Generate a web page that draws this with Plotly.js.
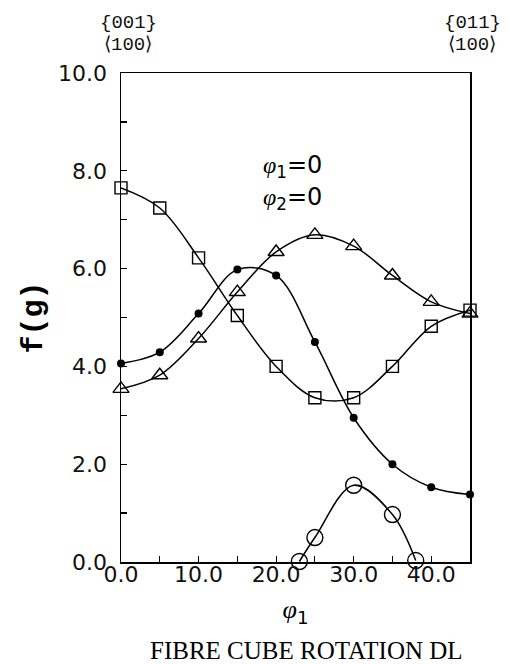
<!DOCTYPE html>
<html>
<head>
<meta charset="utf-8">
<script src="https://cdn.plot.ly/plotly-3.0.1.min.js"></script>
<style>html,body{margin:0;padding:0;background:#fff;}#chart{width:510px;height:664px;}</style>
</head>
<body>
<div id="chart"></div>
<script>
// Data
const phi1 = [0, 5, 10, 15, 20, 25, 30, 35, 40, 45];
const squareVals = [7.65, 7.24, 6.22, 5.04, 4.0, 3.36, 3.36, 4.0, 4.82, 5.15];
const dotVals = [4.06, 4.29, 5.08, 5.98, 5.86, 4.5, 2.95, 2.0, 1.53, 1.38];
const triangleVals = [3.54, 3.82, 4.57, 5.52, 6.34, 6.69, 6.46, 5.86, 5.32, 5.08];
const circlePhi1 = [23, 25, 30, 35, 38];
const circleVals = [0.01, 0.5, 1.57, 0.97, 0.03];
const yTickVals = [0, 2, 4, 6, 8, 10];
const yTickText = ["0.0", "2.0", "4.0", "6.0", "8.0", "10.0"];
const xTickVals = [0, 10, 20, 30, 40];
const xTickText = ["0.0", "10.0", "20.0", "30.0", "40.0"];

// layout geometry (pixels)
const W = 510, H = 664;
const L = 121, R = 40, T = 73, B = 102;
const pw = W - L - R, ph = H - T - B;
const px = x => (x - L) / pw;
const py = y => (H - B - y) / ph;

const lineStyle = {color: '#000', width: 1.5, shape: 'spline', smoothing: 1};
const traces = [
  {x: phi1, y: squareVals, mode: 'lines+markers', line: lineStyle, cliponaxis: false,
   marker: {symbol: 'square-open', size: 12, color: '#000', line: {width: 1.4, color: '#000'}}},
  {x: phi1, y: triangleVals, mode: 'lines+markers', line: lineStyle, cliponaxis: false,
   marker: {symbol: 'triangle-up-open', size: 14, color: '#000', line: {width: 1.4, color: '#000'}}},
  {x: phi1, y: dotVals, mode: 'lines+markers', line: lineStyle, cliponaxis: false,
   marker: {symbol: 'circle', size: 8, color: '#000'}},
  {x: circlePhi1, y: circleVals, mode: 'lines+markers', line: lineStyle, cliponaxis: false,
   marker: {symbol: 'circle-open', size: 16, color: '#000', line: {width: 1.4, color: '#000'}}}
];

const tickFont = {family: 'DejaVu Sans', size: 22, color: '#111'};
const monoFont = {family: 'Liberation Mono', size: 19, color: '#111'};
const phiFont = {family: 'DejaVu Sans', size: 24, color: '#000'};
const PHI = '<span style="font-family:Liberation Serif;font-style:italic">φ</span>';

const layout = {
  width: W, height: H,
  margin: {l: L, r: R, t: T, b: B, pad: 0},
  paper_bgcolor: '#fff', plot_bgcolor: '#fff',
  showlegend: false,
  xaxis: {
    range: [0, 45], showgrid: false, zeroline: false,
    showline: true, linecolor: '#000', linewidth: 1.5, mirror: true,
    ticks: 'inside', ticklen: 6, tickwidth: 1.2, tickcolor: '#000',
    tickvals: xTickVals, ticktext: xTickText, tickfont: tickFont, ticklabelstandoff: -8,
    minor: {dtick: 5, tick0: 0, ticks: 'inside', ticklen: 6, tickwidth: 1.2, tickcolor: '#000', showgrid: false},
    title: {text: PHI + '<sub>1</sub>', font: {family: 'DejaVu Sans', size: 26, color: '#000'}, standoff: 14}
  },
  yaxis: {
    range: [0, 10], showgrid: false, zeroline: false,
    showline: true, linecolor: '#000', linewidth: 1.5, mirror: true,
    ticks: 'inside', ticklen: 6, tickwidth: 1.2, tickcolor: '#000',
    tickvals: yTickVals, ticktext: yTickText, tickfont: tickFont, ticklabelstandoff: 8,
    minor: {dtick: 1, tick0: 0, ticks: 'inside', ticklen: 6, tickwidth: 1.2, tickcolor: '#000', showgrid: false},
    title: {text: 'f(g)', font: {family: 'Liberation Mono', size: 30, color: '#000', weight: 'bold'}, standoff: 6}
  },
  annotations: [
    {xref: 'paper', yref: 'paper', x: px(128), y: py(23), text: '{001}', showarrow: false, font: monoFont, xanchor: 'center', yanchor: 'middle'},
    {xref: 'paper', yref: 'paper', x: px(128), y: py(45), text: '⟨100⟩', showarrow: false, font: monoFont, xanchor: 'center', yanchor: 'middle'},
    {xref: 'paper', yref: 'paper', x: px(472), y: py(23), text: '{011}', showarrow: false, font: monoFont, xanchor: 'center', yanchor: 'middle'},
    {xref: 'paper', yref: 'paper', x: px(472), y: py(45), text: '⟨100⟩', showarrow: false, font: monoFont, xanchor: 'center', yanchor: 'middle'},
    {xref: 'paper', yref: 'paper', x: px(292), y: py(166), text: PHI + '<sub>1</sub>=0', showarrow: false, font: phiFont, xanchor: 'center', yanchor: 'middle'},
    {xref: 'paper', yref: 'paper', x: px(292), y: py(199), text: PHI + '<sub>2</sub>=0', showarrow: false, font: phiFont, xanchor: 'center', yanchor: 'middle'},
    {xref: 'paper', yref: 'paper', x: px(306), y: py(650), text: 'FIBRE CUBE ROTATION DL', showarrow: false, font: {family: 'Liberation Serif', size: 25, color: '#000'}, xanchor: 'center', yanchor: 'middle'}
  ]
};

Plotly.newPlot('chart', traces, layout, {staticPlot: true, displayModeBar: false});
</script>
</body>
</html>
